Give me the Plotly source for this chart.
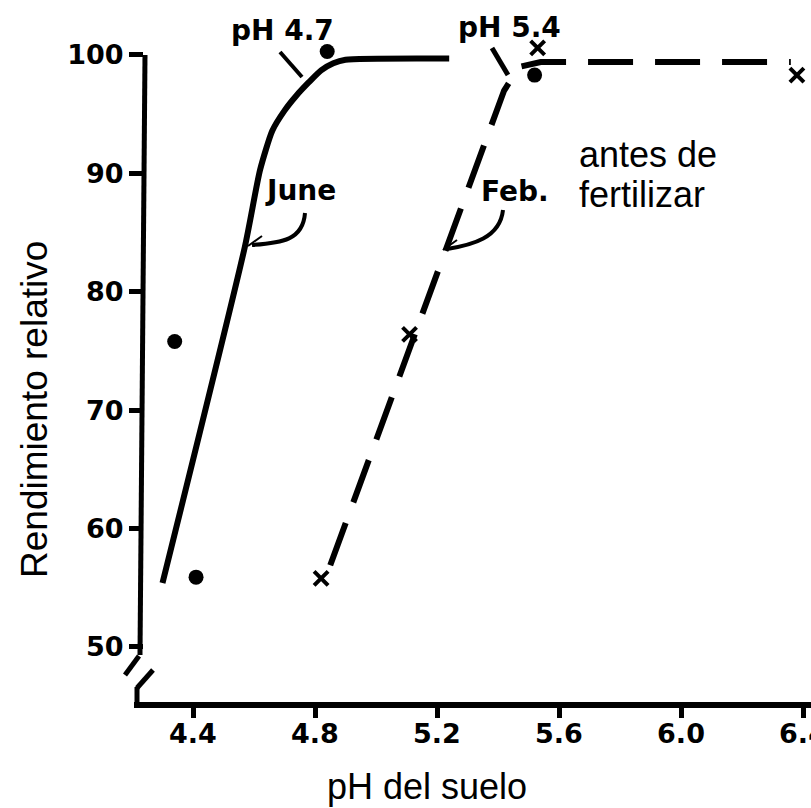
import plotly.graph_objects as go

# ---- data ----
june_curve_ph = [4.30, 4.57, 4.62, 4.66, 4.70, 4.74, 4.78, 4.82, 4.86, 4.90, 5.24]
june_curve_yield = [55.4, 83.8, 90.3, 93.6, 95.3, 96.6, 97.7, 98.7, 99.3, 99.6, 99.7]
feb_curve_ph = [4.85, 5.42, 5.47, 5.54, 6.36]
feb_curve_yield = [56.9, 97.0, 99.0, 99.4, 99.4]

june_pts_ph = [4.41, 4.34, 4.84, 5.52]
june_pts_yield = [55.9, 75.8, 100.3, 98.3]
feb_pts_ph = [4.82, 5.11, 5.53, 6.38]
feb_pts_yield = [55.8, 76.4, 100.6, 98.3]

x_ticks = [4.4, 4.8, 5.2, 5.6, 6.0, 6.4]
x_ticktext = ["4.4", "4.8", "5.2", "5.6", "6.0", "6.4"]
y_ticks = [50, 60, 70, 80, 90, 100]
y_ticktext = ["50", "60", "70", "80", "90", "100"]

# ---- layout geometry ----
W, H = 811, 808
L, T, PW, PH = 137, 10, 674, 695


def px(x):
    return (x - L) / PW


def py(y):
    return (T + PH - y) / PH


fig = go.Figure()

fig.add_trace(go.Scatter(x=june_curve_ph, y=june_curve_yield, mode="lines",
                         line=dict(color="black", width=6, shape="spline", smoothing=0.6),
                         hoverinfo="skip"))
fig.add_trace(go.Scatter(x=feb_curve_ph, y=feb_curve_yield, mode="lines",
                         line=dict(color="black", width=6, dash="45px,22px"),
                         hoverinfo="skip"))
fig.add_trace(go.Scatter(x=june_pts_ph, y=june_pts_yield, mode="markers",
                         marker=dict(symbol="circle", size=15, color="black")))
fig.add_trace(go.Scatter(x=feb_pts_ph, y=feb_pts_yield, mode="markers",
                         marker=dict(symbol="x-thin", size=14,
                                     line=dict(width=4, color="black"))))

bold = dict(family="DejaVu Sans", size=27, color="black", weight="bold")

fig.update_layout(
    width=W, height=H,
    margin=dict(l=L, r=W - L - PW, t=T, b=H - T - PH, autoexpand=False),
    plot_bgcolor="white", paper_bgcolor="white",
    showlegend=False,
    xaxis=dict(range=[4.2164, 6.4262], tickvals=x_ticks, ticktext=x_ticktext,
               automargin=False,
               ticks="outside", ticklen=12, tickwidth=5, tickcolor="black",
               ticklabeloverflow="allow", ticklabelstandoff=-7,
               showgrid=False, zeroline=False, showline=False, tickfont=bold),
    yaxis=dict(range=[45.10, 103.80], tickvals=y_ticks, ticktext=y_ticktext,
               automargin=False,
               anchor="free", position=6 / PW,
               ticks="outside", ticklen=14, tickwidth=5, tickcolor="black",
               showgrid=False, zeroline=False, showline=False, tickfont=bold),
)


def seg(x0, y0, x1, y1, w=5):
    fig.add_shape(type="line", xref="paper", yref="paper",
                  x0=px(x0), y0=py(y0), x1=px(x1), y1=py(y1),
                  line=dict(color="black", width=w))


def path(pts, w=4, fill=None):
    d = ""
    for cmd, coords in pts:
        d += cmd + " " + " ".join(f"{px(a):.5f},{py(b):.5f}" for a, b in coords) + " "
    if fill:
        d += "Z"
    fig.add_shape(type="path", xref="paper", yref="paper", path=d,
                  line=dict(color="black", width=w),
                  fillcolor=fill if fill else "rgba(0,0,0,0)")


# axes with break
seg(145, 55, 140, 655, 5)
seg(139, 656, 125, 675, 5)
seg(153, 670, 137, 688, 5)
seg(137, 687, 137, 708, 5)
seg(134, 705, 811, 705, 6)

# pointers
seg(280, 52, 302, 77, 4)
seg(492, 48, 508, 75, 5)
path([("M", [(305, 213)]), ("C", [(303, 240), (282, 243), (252, 245)])], w=4)
path([("M", [(248, 246)]), ("L", [(262, 236), (260, 251)])], w=2, fill="black")
path([("M", [(503, 210)]), ("C", [(500, 238), (472, 245), (447, 249)])], w=4)
path([("M", [(443, 250)]), ("L", [(457, 240), (456, 255)])], w=2, fill="black")

bold_lbl = dict(family="DejaVu Sans", size=28, color="black", weight="bold")
reg = dict(family="Liberation Sans", size=36, color="black")
reg_y = dict(family="Liberation Sans", size=37, color="black")


def ann(text, x, y, font, xanchor="center", yanchor="middle", angle=0):
    fig.add_annotation(text=text, xref="paper", yref="paper", x=px(x), y=py(y),
                       showarrow=False, font=font, xanchor=xanchor, yanchor=yanchor,
                       textangle=angle)


ann("pH 4.7", 282, 31, bold_lbl)
ann("pH 5.4", 509, 27, bold_lbl)
ann("June", 300, 190, bold_lbl)
ann("Feb.", 515, 192, bold_lbl)
ann("antes de", 577, 154, reg, xanchor="left")
ann("fertilizar", 577, 194, reg, xanchor="left")
ann("pH del suelo", 427, 786, reg)
ann("Rendimiento relativo", 34, 410, reg_y, angle=-90)

fig.write_html("out.html", config={"displayModeBar": False},
               post_script="document.body.style.margin='0px';document.body.style.overflow='hidden';")
